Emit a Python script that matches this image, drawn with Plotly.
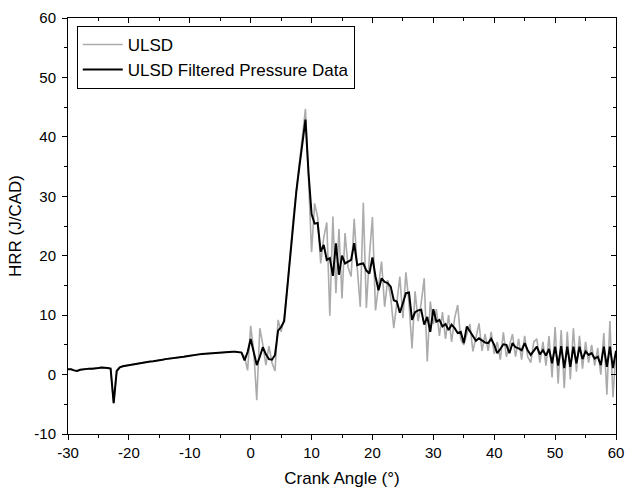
import plotly.graph_objects as go

# Crank angle grid (degrees), 0.5 CAD resolution
crank_angle = [-30 + 0.5 * i for i in range(181)]

# ULSD raw heat release rate (J/CAD)
ulsd_raw = [
    0.9, 0.9, 0.7, 0.6, 0.8, 0.9, 0.9, 1.0, 1.0, 1.0,
    1.1, 1.2, 1.2, 1.1, 1.0, -4.8, 0.6, 1.2, 1.4, 1.5,
    1.6, 1.7, 1.8, 1.9, 1.95, 2.0, 2.1, 2.2, 2.25, 2.3,
    2.4, 2.5, 2.6, 2.65, 2.7, 2.8, 2.85, 2.9, 3.0, 3.1,
    3.2, 3.25, 3.3, 3.4, 3.45, 3.5, 3.55, 3.6, 3.65, 3.7,
    3.75, 3.8, 3.85, 3.9, 3.85, 3.85, 3.8,
    # -1.5 .. 10
    3.7, 3.0, 0.7, 8.2, 4.0, -4.3, 7.8, 5.0, 1.6, 4.8,
    2.0, 0.6, 9.2, 7.2, 9.5, 14.5, 20.5, 26.2, 31.0, 35.5,
    40.0, 44.7, 33.0, 20.6,
    # 10.5 .. 60
    28.8, 26.5, 18.7, 23.0, 25.6, 9.9, 26.6, 13.7, 24.5, 12.8,
    23.8, 18.0, 16.5, 26.2, 18.0, 11.4, 28.9, 11.2, 20.0, 26.5,
    10.8, 15.0, 19.0, 11.4, 15.9, 13.0, 7.8, 12.0, 16.5, 9.5,
    17.2, 12.0, 4.4, 14.0, 9.0, 12.0, 16.2, 2.2, 12.3, 8.5,
    11.0, 6.5, 10.5, 6.0, 10.0, 5.5, 9.5, 11.7, 5.9, 5.0,
    7.0, 8.5, 3.9, 6.0, 8.6, 4.0, 6.8, 4.0, 7.2, 3.5,
    5.5, 2.5, 7.1, 3.0, 5.0, 6.8, 3.0, 6.0, 2.5, 6.5,
    3.0, 2.0, 5.5, 6.0, 2.0, 5.5, 1.5, 6.5, -0.5, 8.0,
    -1.5, 7.5, -2.3, 7.2, -0.8, 7.8, 0.5, 6.5, 1.0, 5.5,
    2.0, 5.0, 1.5, 4.5, 0.0, 7.0, -3.4, 9.0, -3.8, 4.0,
]

# ULSD filtered pressure data heat release rate (J/CAD)
ulsd_filtered = [
    0.9, 0.9, 0.7, 0.6, 0.8, 0.9, 0.9, 1.0, 1.0, 1.0,
    1.1, 1.2, 1.2, 1.1, 1.0, -4.8, 0.6, 1.2, 1.4, 1.5,
    1.6, 1.7, 1.8, 1.9, 1.95, 2.0, 2.1, 2.2, 2.25, 2.3,
    2.4, 2.5, 2.6, 2.65, 2.7, 2.8, 2.85, 2.9, 3.0, 3.1,
    3.2, 3.25, 3.3, 3.4, 3.45, 3.5, 3.55, 3.6, 3.65, 3.7,
    3.75, 3.8, 3.85, 3.9, 3.85, 3.85, 3.8,
    # -1.5 .. 10
    3.7, 2.4, 3.8, 6.0, 3.5, 1.6, 3.0, 4.6, 3.4, 2.6,
    2.5, 3.3, 7.4, 8.0, 9.0, 14.5, 20.5, 26.0, 30.8, 35.0,
    39.0, 42.9, 34.0, 27.0,
    # 10.5 .. 60
    25.4, 25.5, 20.7, 21.8, 19.3, 19.6, 16.6, 22.1, 16.8, 20.0,
    18.7, 19.0, 19.3, 22.1, 18.4, 18.6, 18.7, 17.5, 17.0, 19.7,
    16.5, 14.2, 16.2, 15.6, 15.4, 14.8, 12.5, 12.3, 10.4, 12.0,
    13.7, 13.8, 9.2, 10.5, 10.8, 10.9, 8.4, 9.7, 7.2, 11.0,
    8.9, 9.2, 8.1, 8.5, 7.5, 8.4, 7.8, 7.0, 7.2, 5.3,
    8.1, 7.3, 6.5, 5.7, 6.1, 5.8, 5.4, 5.3, 6.0, 5.0,
    3.6, 4.3, 5.1, 5.0, 3.6, 5.3, 4.6, 4.4, 4.1, 5.3,
    4.1, 3.3, 4.0, 4.7, 3.4, 4.1, 3.2, 4.3, 1.9, 4.7,
    1.5, 4.8, 1.1, 4.7, 1.3, 4.7, 1.9, 4.7, 2.6, 3.9,
    3.3, 3.6, 2.7, 3.0, 1.6, 4.7, 1.3, 4.7, 1.1, 4.0,
]

x_ticks = [-30, -20, -10, 0, 10, 20, 30, 40, 50, 60]
x_tick_labels = ["-30", "-20", "-10", "0", "10", "20", "30", "40", "50", "60"]
y_ticks = [-10, 0, 10, 20, 30, 40, 50, 60]
y_tick_labels = ["-10", "0", "10", "20", "30", "40", "50", "60"]

FONT = "Arial"

fig = go.Figure()
fig.add_trace(go.Scatter(x=crank_angle, y=ulsd_raw, mode="lines", name="ULSD",
                         line=dict(color="#ababab", width=1.6)))
fig.add_trace(go.Scatter(x=crank_angle, y=ulsd_filtered, mode="lines",
                         name="ULSD Filtered Pressure Data",
                         line=dict(color="#000000", width=2)))
# invisible trace for mirrored (inside-tick) axes
fig.add_trace(go.Scatter(x=[crank_angle[0]], y=[ulsd_raw[0]], xaxis="x2", yaxis="y2",
                         mode="lines", showlegend=False, hoverinfo="skip",
                         line=dict(color="rgba(0,0,0,0)")))

axis_common = dict(showgrid=False, zeroline=False, showline=True, linecolor="black",
                   linewidth=1, tickcolor="black", ticklen=5, tickwidth=1,
                   automargin=False)

fig.update_layout(
    width=625, height=491,
    margin=dict(l=68, r=9, t=18, b=57),
    paper_bgcolor="white", plot_bgcolor="white",
    font=dict(family=FONT, color="black", size=15),
    showlegend=True,
    legend=dict(x=0.016, y=0.981, xanchor="left", yanchor="top",
                bgcolor="white", bordercolor="black", borderwidth=1,
                font=dict(family=FONT, size=17, color="black"),
                tracegroupgap=0, itemwidth=40),
    xaxis=dict(range=[-30, 60], tickvals=x_ticks, ticktext=x_tick_labels,
               ticks="outside", ticklabeloverflow="allow",
               title=dict(text="Crank Angle (°)", font=dict(size=17), standoff=12),
               minor=dict(dtick=5, tick0=-30, ticks="outside", ticklen=3,
                          tickcolor="black"),
               **axis_common),
    yaxis=dict(range=[-10, 60], tickvals=y_ticks, ticktext=y_tick_labels,
               ticks="outside", ticklabelstandoff=3, ticklabeloverflow="allow",
               title=dict(text="HRR (J/CAD)", font=dict(size=17), standoff=8),
               minor=dict(dtick=5, tick0=-10, ticks="outside", ticklen=3,
                          tickcolor="black"),
               **axis_common),
    xaxis2=dict(range=[-30, 60], tickvals=x_ticks, ticks="inside", overlaying="x",
                side="top", showticklabels=False, anchor="y",
                minor=dict(dtick=5, tick0=-30, ticks="inside", ticklen=3,
                           tickcolor="black"),
                **axis_common),
    yaxis2=dict(range=[-10, 60], tickvals=y_ticks, ticks="inside", overlaying="y",
                side="right", showticklabels=False, anchor="x",
                minor=dict(dtick=5, tick0=-10, ticks="inside", ticklen=3,
                           tickcolor="black"),
                **axis_common),
)

fig.write_html(
    "out.html",
    config={"displayModeBar": False},
    post_script="document.body.style.margin='0';document.body.style.overflow='hidden';",
)
